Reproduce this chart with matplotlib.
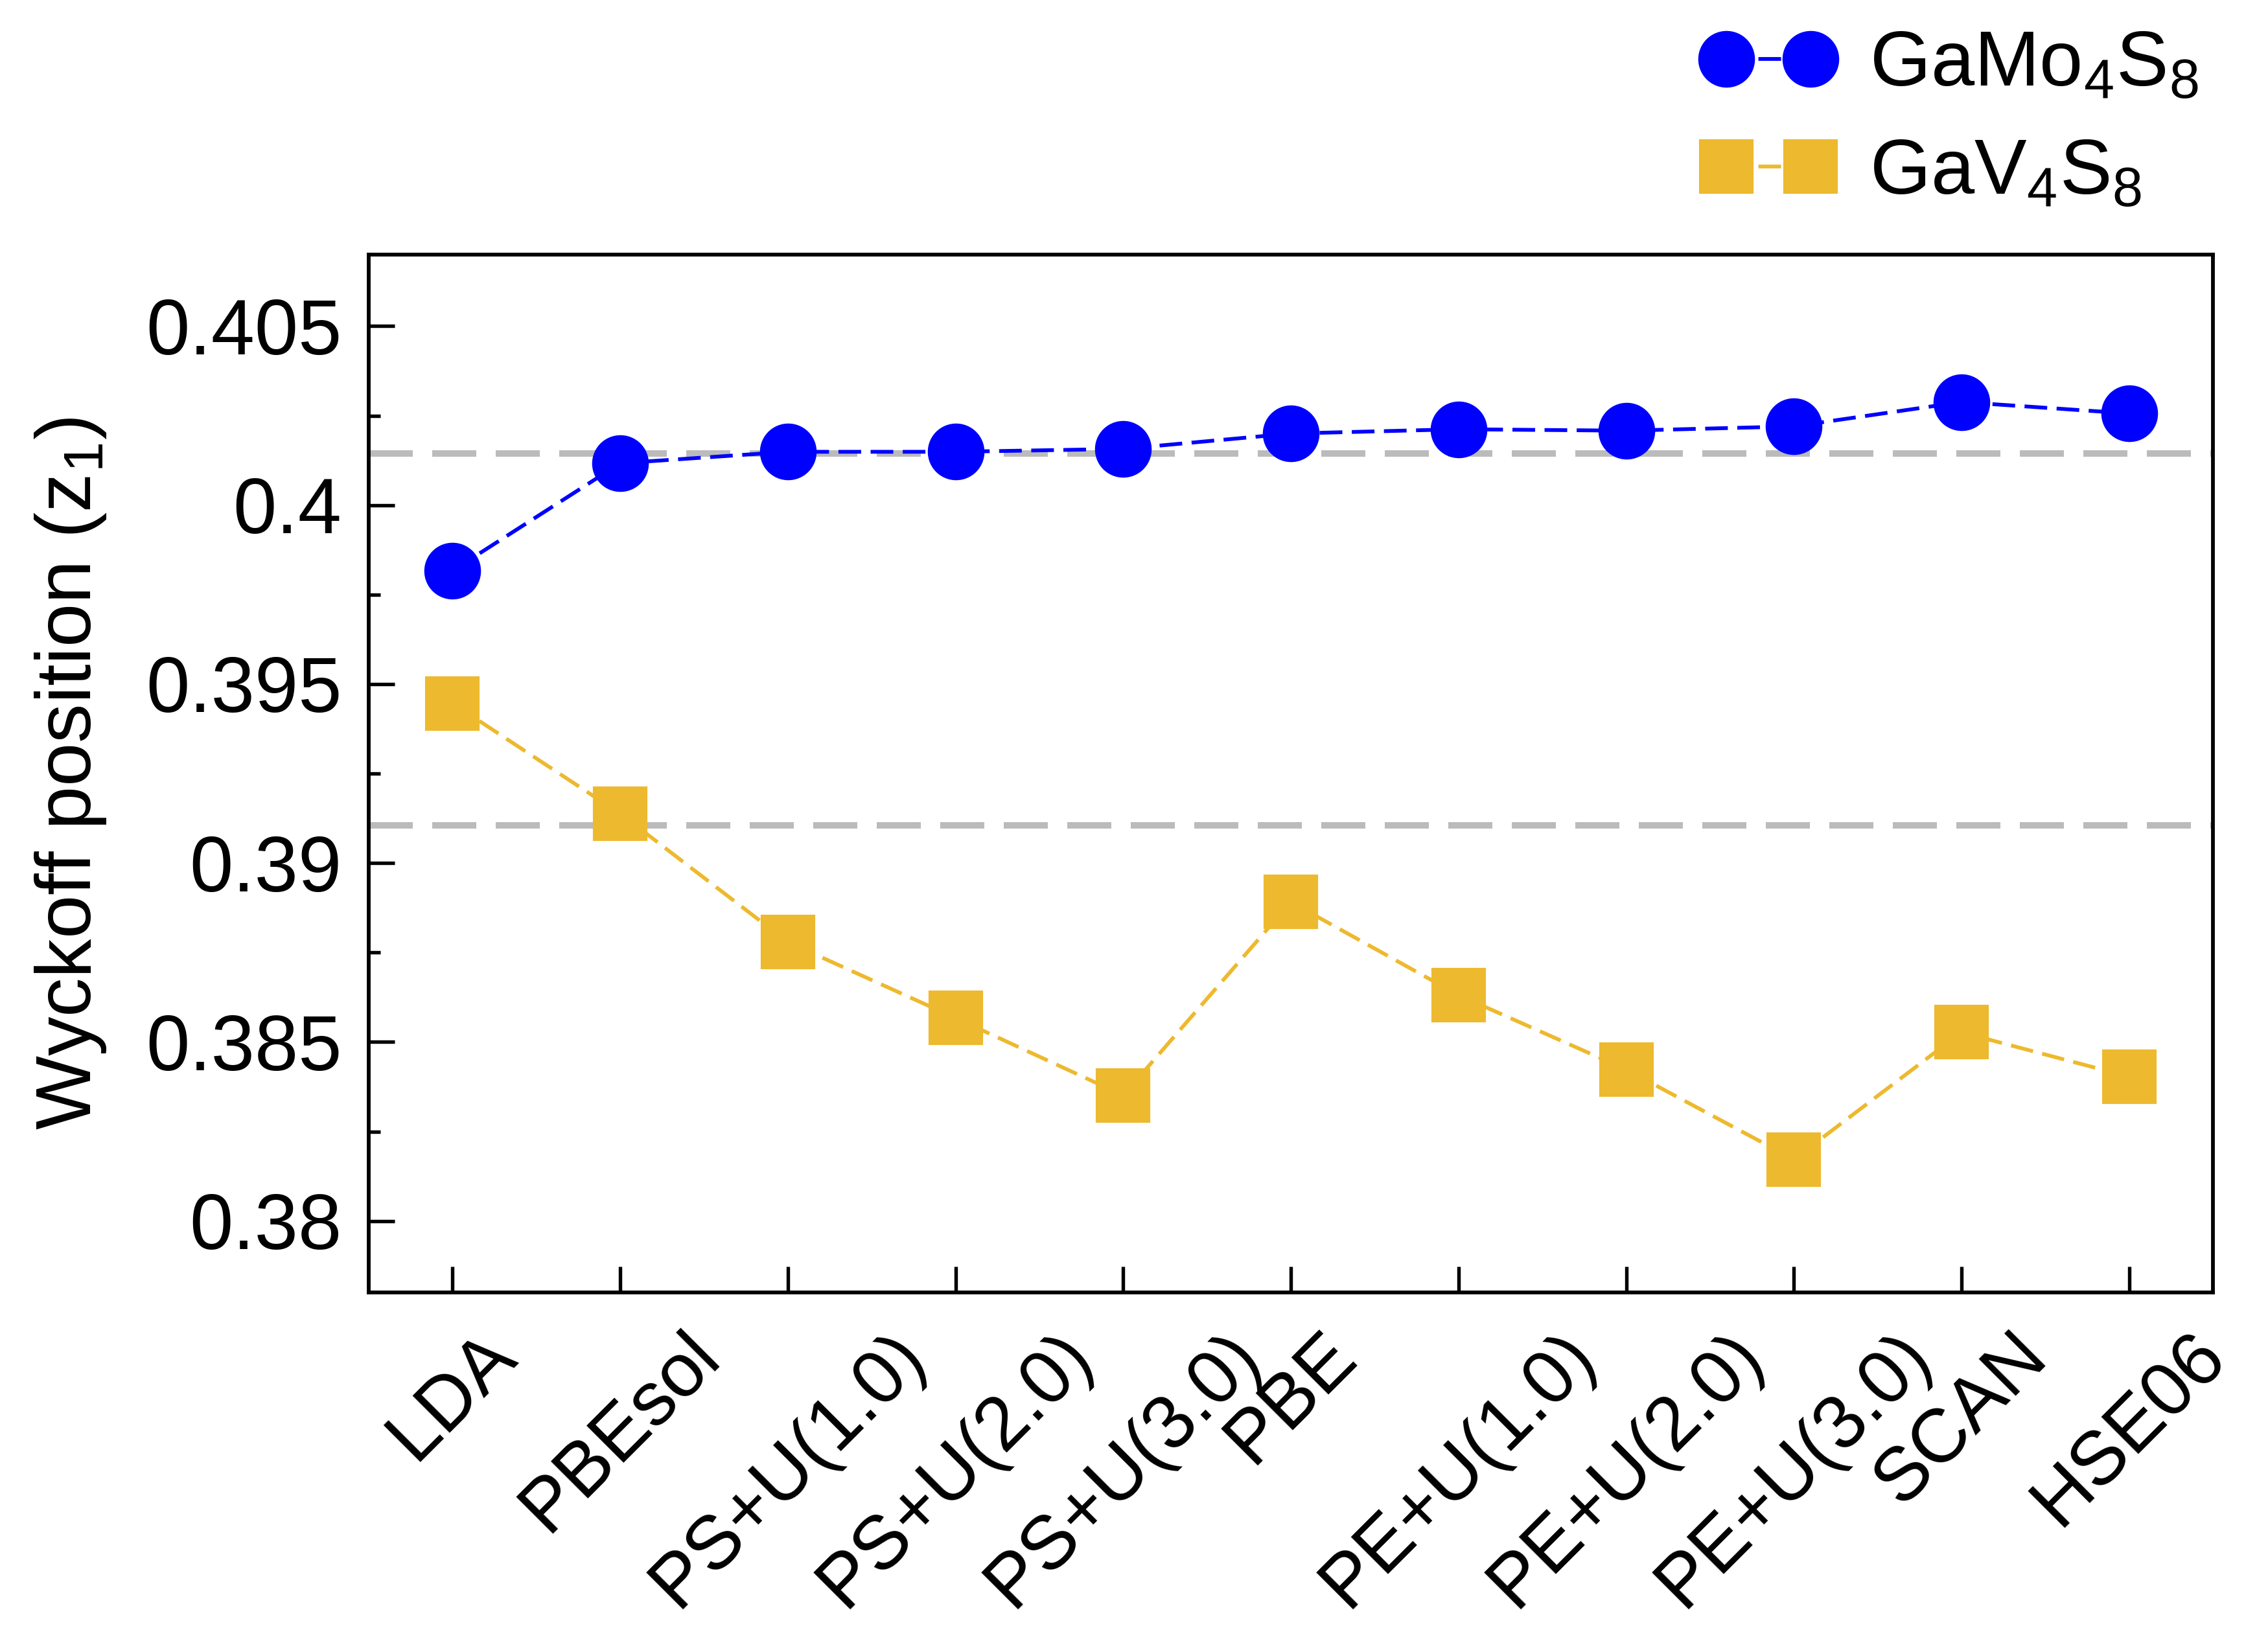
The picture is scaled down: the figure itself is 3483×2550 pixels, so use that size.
import numpy as np
import matplotlib
matplotlib.use('Agg')
import matplotlib.pyplot as plt
from matplotlib.ticker import MultipleLocator

plt.rcParams['font.family'] = ['Liberation Sans', 'DejaVu Sans']
plt.rcParams['mathtext.default'] = 'regular'

# Datos
metodos = ['LDA', 'PBEsol', 'PS+U(1.0)', 'PS+U(2.0)', 'PS+U(3.0)', 'PBE',
           'PE+U(1.0)', 'PE+U(2.0)', 'PE+U(3.0)', 'SCAN', 'HSE06']
z_gamo = [0.39817, 0.40117, 0.40149, 0.40149, 0.40157, 0.40200,
          0.40212, 0.40208, 0.40220, 0.40288, 0.40256]
z_gav = [0.39446, 0.39138, 0.38779, 0.38567, 0.38351, 0.38891,
         0.38631, 0.38423, 0.38172, 0.38527, 0.38403]
z_exp_gamo = 0.40145  # referencia experimental (línea gris)
z_exp_gav = 0.39106

x = np.arange(len(metodos))

fig = plt.figure(figsize=(11.61, 8.5), dpi=300)
ax = fig.add_axes([0.1634, 0.2176, 0.8171, 0.6283])

ax.axhline(z_exp_gamo, color='#bbbbbb', lw=2.4, dashes=(6.8, 3.0), zorder=1)
ax.axhline(z_exp_gav, color='#bbbbbb', lw=2.4, dashes=(6.8, 3.0), zorder=1)

ax.plot(x, z_gamo, color='#0000ff', lw=1.4, dashes=(6, 2.5), marker='o',
        markersize=20, label=r'GaMo$_4$S$_8$', zorder=3)
ax.plot(x, z_gav, color='#edb92e', lw=1.4, dashes=(6, 2.5), marker='s',
        markersize=19, label=r'GaV$_4$S$_8$', zorder=3)

ax.set_xlim(-0.5, 10.5)
ax.set_ylim(0.378, 0.407)
ax.set_xticks(x)
ax.set_xticklabels(metodos, rotation=45, fontsize=28)
ax.yaxis.set_minor_locator(MultipleLocator(0.0025))
ax.set_yticks([0.38, 0.385, 0.39, 0.395, 0.4, 0.405])
ax.set_yticklabels(['0.38', '0.385', '0.39', '0.395', '0.4', '0.405'], fontsize=29)
ax.tick_params(axis='both', which='major', direction='in', length=9.6, width=1.3, pad=10)
ax.tick_params(axis='y', which='minor', direction='in', length=4.4, width=1.3)
ax.tick_params(axis='x', which='minor', bottom=False)
for s in ax.spines.values():
    s.set_linewidth(1.4)

ax.set_ylabel(r'Wyckoff position (z$_1$)', fontsize=29, labelpad=14)

ax.legend(loc='lower right', bbox_to_anchor=(1.005, 1.02), frameon=False,
          fontsize=29, numpoints=2, handlelength=1.67, labelspacing=0.45,
          borderaxespad=0.2, handletextpad=0.46, borderpad=0.1)

fig.savefig('out.png', dpi=300)
